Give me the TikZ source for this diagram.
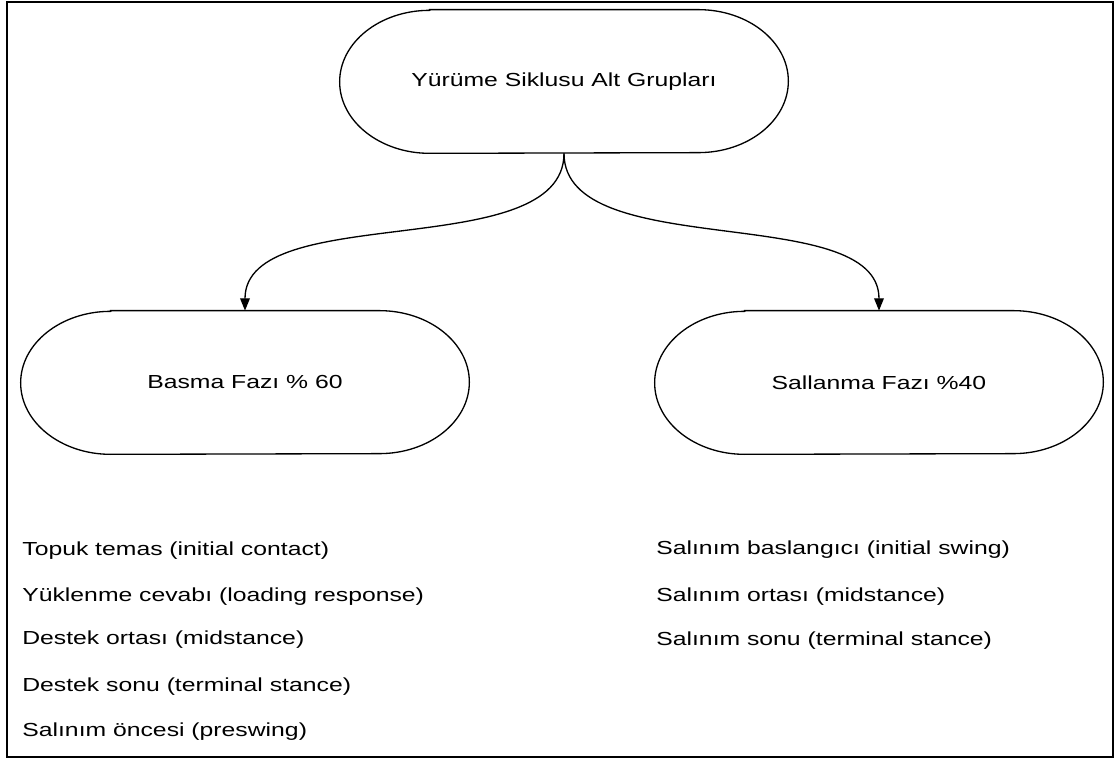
\documentclass[tikz,border=0pt]{standalone}
\usepackage{fontspec}
\setmainfont{Liberation Sans}[FakeStretch=1.31]
\usetikzlibrary{arrows.meta}
\tikzset{
  phase/.style={rectangle,inner sep=0pt,minimum width=8.96cm,minimum height=2.86cm},
  pill/.style={line width=0.75pt},
  item/.style={anchor=west,inner sep=0pt}
}
\begin{document}
\begin{tikzpicture}[font=\fontsize{10.75}{12.9}\selectfont]
      \useasboundingbox (0,0) rectangle (22.3,15.16);
      \draw[line width=1pt] (0.14,0.02) rectangle (22.26,15.12);
      \draw[phase]
        (11.28, 13.53) node[phase] (top){Yürüme Siklusu Alt Grupları}
        (4.90, 7.51) node[phase] (basma){Basma Fazı \% 60}
        (17.58, 7.51) node[phase] (sallanma){Sallanma Fazı \%40};
      \foreach \n in {top,basma,sallanma}
        \draw[pill] ([xshift=1.8cm]\n.north west) -- ([xshift=-1.8cm]\n.north east)
          arc[start angle=90,end angle=-90,x radius=1.8cm,y radius=1.43cm]
          -- ([xshift=1.8cm]\n.south west)
          arc[start angle=270,end angle=90,x radius=1.8cm,y radius=1.43cm] -- cycle;
      \draw
        (0.44, 4.14) node[item] (b1){Topuk temas (initial contact)}
        (0.44, 3.22) node[item] (b2){Yüklenme cevabı (loading response)}
        (0.44, 2.36) node[item] (b3){Destek ortası (midstance)}
        (0.44, 1.42) node[item] (b4){Destek sonu (terminal stance)}
        (0.44, 0.52) node[item] (b5){Salınım öncesi (preswing)}
        (13.12, 4.16) node[item] (s1){Salınım baslangıcı (initial swing)}
        (13.12, 3.22) node[item] (s2){Salınım ortası (midstance)}
        (13.12, 2.34) node[item] (s3){Salınım sonu (terminal stance)};
      \begin{scope}[-{Triangle[length=7pt,width=5.5pt]},line width=0.75pt]
        \draw (top.south) to[out=-90,in=90,looseness=0.8] (basma.north);
        \draw (top.south) to[out=-90,in=90,looseness=0.8] (sallanma.north);
      \end{scope}
    \end{tikzpicture}
\end{document}
